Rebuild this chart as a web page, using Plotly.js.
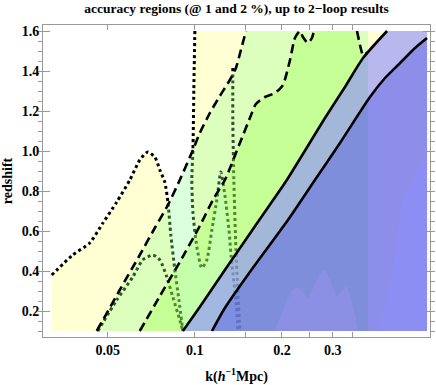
<!DOCTYPE html>
<html>
<head>
<meta charset="utf-8">
<script src="https://cdn.plot.ly/plotly-3.0.1.min.js"></script>
<style>
  body { margin: 0; background: white; }
  #chart { width: 436px; height: 385px; }
</style>
</head>
<body>
<div id="chart"></div>
<script>
// limits of the shaded area
const kMin = 0.032, kMax = 0.635, kGreen = 0.397
const zMin = 0.1, zMax = 1.6

// dotted contours
const dotHumpK = [0.0320, 0.0378, 0.0433, 0.0481, 0.0537, 0.0596, 0.0645, 0.0688, 0.0727, 0.0757, 0.0787, 0.0807, 0.0826, 0.0853, 0.0881, 0.0909]
const dotHumpZ = [0.38, 0.48, 0.54, 0.64, 0.745, 0.855, 0.955, 0.995, 0.97, 0.905, 0.845, 0.745, 0.58, 0.405, 0.255, 0.1]
const dotWiggleK = [0.1, 0.0992, 0.0985, 0.0976, 0.0985, 0.1016, 0.1057, 0.110, 0.1145, 0.1191, 0.123, 0.127, 0.1312, 0.1343, 0.1387, 0.141]
const dotWiggleZ = [1.6, 1.305, 1.005, 0.855, 0.69, 0.52, 0.415, 0.455, 0.605, 0.755, 0.895, 0.78, 0.605, 0.43, 0.255, 0.1]
const dotInnerK = [0.0462, 0.0537, 0.061, 0.066, 0.0716, 0.0757, 0.080, 0.0839, 0.0887, 0.0909]
const dotInnerZ = [0.1, 0.255, 0.37, 0.455, 0.48, 0.455, 0.37, 0.27, 0.155, 0.1]
const dotRightK = [0.1353, 0.1353, 0.1364, 0.1387, 0.1431]
const dotRightZ = [1.415, 1.155, 0.855, 0.505, 0.1]

// dashed contours
const dashAK = [0.0458, 0.055, 0.0645, 0.0727, 0.0807, 0.0887, 0.0985, 0.104, 0.1127, 0.122, 0.1321, 0.1387, 0.1443, 0.1502]
const dashAZ = [0.1, 0.305, 0.48, 0.615, 0.73, 0.855, 1.005, 1.09, 1.19, 1.275, 1.355, 1.415, 1.505, 1.6]
const dashBK = [0.0645, 0.0757, 0.0887, 0.104, 0.1154, 0.127, 0.1431, 0.155, 0.1626, 0.1747, 0.1891, 0.2016, 0.2133, 0.2218, 0.2308, 0.2364, 0.246, 0.254, 0.258]
const dashBZ = [0.1, 0.275, 0.445, 0.625, 0.755, 0.855, 1.04, 1.165, 1.235, 1.27, 1.29, 1.33, 1.455, 1.565, 1.6, 1.57, 1.54, 1.565, 1.6]
const dashEndK = [0.3636, 0.3724, 0.3815, 0.397]
const dashEndZ = [1.6, 1.53, 1.48, 1.495]

// solid contours
const solidAK = [0.0909, 0.104, 0.127, 0.1679, 0.208, 0.2818, 0.3304, 0.3815, 0.4619]
const solidAZ = [0.1, 0.22, 0.405, 0.66, 0.855, 1.165, 1.32, 1.465, 1.6]
const solidBK = [0.1146, 0.127, 0.155, 0.2098, 0.2601, 0.3175, 0.4031, 0.4544, 0.5122, 0.577, 0.635]
const solidBZ = [0.1, 0.215, 0.395, 0.655, 0.855, 1.04, 1.27, 1.365, 1.44, 1.515, 1.565]

// right edge of the yellow region (bottom to top)
const edgeK = [0.4266, 0.4619, 0.492, 0.5245, 0.5677, 0.635, 0.635]
const edgeZ = [0.1, 0.255, 0.505, 0.755, 0.845, 1.005, 1.6]

// lighter bumps at the bottom of the blue area
const bumpK = [0.1891, 0.2048, 0.2166, 0.2272, 0.2364, 0.246, 0.2601, 0.2707, 0.2818, 0.2931, 0.3099, 0.3227, 0.3333, 0.3438, 0.3578, 0.3664]
const bumpZ = [0.1, 0.23, 0.305, 0.32, 0.295, 0.265, 0.33, 0.385, 0.405, 0.355, 0.27, 0.305, 0.33, 0.28, 0.18, 0.1]

const xTicks = [0.05, 0.1, 0.2, 0.3]
const xTickText = ["0.05", "0.1", "0.2", "0.3"]
const xMinorTicks = [0.15, 0.25, 0.35]
const yTicks = [0.2, 0.4, 0.6, 0.8, 1.0, 1.2, 1.4, 1.6]
const yTickText = ["0.2", "0.4", "0.6", "0.8", "1.0", "1.2", "1.4", "1.6"]

function area (x, y, color) {
    return {x: x, y: y, type: "scatter", mode: "lines", fill: "toself",
        fillcolor: color, line: {width: 0}, hoverinfo: "skip"}
}

function curve (x, y, dash, width) {
    return {x: x, y: y, type: "scatter", mode: "lines",
        line: {color: "black", width: width, dash: dash, shape: "spline", smoothing: 0.6},
        hoverinfo: "skip"}
}

let yellowK = [kMin, ...dotHumpK, null, ...dotWiggleK, ...edgeK]
let yellowZ = [zMin, ...dotHumpZ, null, ...dotWiggleZ, ...edgeZ]

let data = [
    area(yellowK, yellowZ, "rgba(255,255,150,0.42)"),
    curve(dotHumpK, dotHumpZ, "3px,3px", 3),
    curve(dotWiggleK, dotWiggleZ, "3px,3px", 3),
    curve(dotInnerK, dotInnerZ, "3px,3px", 3),
    curve(dotRightK, dotRightZ, "3px,3px", 3),
    area([...dashAK, kGreen, kGreen], [...dashAZ, zMax, zMin], "rgba(150,255,150,0.33)"),
    area([...dashBK, ...dashEndK, kGreen], [...dashBZ, ...dashEndZ, zMin], "rgba(150,255,60,0.3)"),
    curve(dashAK, dashAZ, "9px,5px", 2.6),
    curve(dashBK, dashBZ, "9px,5px", 2.6),
    curve(dashEndK, dashEndZ, "9px,5px", 2.6),
    area([...solidAK, kMax, kMax], [...solidAZ, zMax, zMin], "rgba(144,144,255,0.64)"),
    area([...solidBK, kMax], [...solidBZ, zMin], "rgba(58,64,224,0.35)"),
    area(bumpK, bumpZ, "rgba(185,150,255,0.25)"),
    curve(solidAK, solidAZ, "solid", 2.6),
    curve(solidBK, solidBZ, "solid", 2.6)
]

let font = {family: "Liberation Serif", size: 14, color: "black", weight: "bold"}

let layout = {
    width: 436,
    height: 385,
    margin: {l: 43, r: 6, t: 25, b: 48},
    paper_bgcolor: "white",
    plot_bgcolor: "white",
    showlegend: false,
    font: font,
    title: {
        text: "accuracy regions (@ 1 and 2 %), up to 2\u2212loop results",
        font: {family: "Liberation Serif", size: 13.5, color: "black", weight: "bold"},
        xref: "paper", x: 0.5, yref: "container", y: 0.978, yanchor: "middle"
    },
    xaxis: {
        type: "log",
        range: [-1.525, -0.187],
        tickmode: "array", tickvals: xTicks, ticktext: xTickText,
        ticks: "inside", ticklen: 5, tickcolor: "#999", tickwidth: 1,
        minor: {tickvals: xMinorTicks, ticks: "inside", ticklen: 5, tickcolor: "#999"},
        linecolor: "#999", linewidth: 1, mirror: "ticks",
        showgrid: false, zeroline: false,
        tickfont: font,
        title: {text: "k(<i>h</i><sup>\u22121</sup>Mpc)", font: font, standoff: 14}
    },
    yaxis: {
        range: [0.07, 1.63],
        tickmode: "array", tickvals: yTicks, ticktext: yTickText,
        ticks: "inside", ticklen: 7, tickcolor: "#999", tickwidth: 1,
        minor: {tickmode: "linear", tick0: 0, dtick: 0.05, ticklen: 4, tickcolor: "#999"},
        linecolor: "#999", linewidth: 1, mirror: "ticks",
        showgrid: false, zeroline: false,
        tickfont: font,
        title: {text: "redshift", font: font, standoff: 6}
    }
}

Plotly.newPlot("chart", data, layout, {staticPlot: true})
</script>
</body>
</html>
